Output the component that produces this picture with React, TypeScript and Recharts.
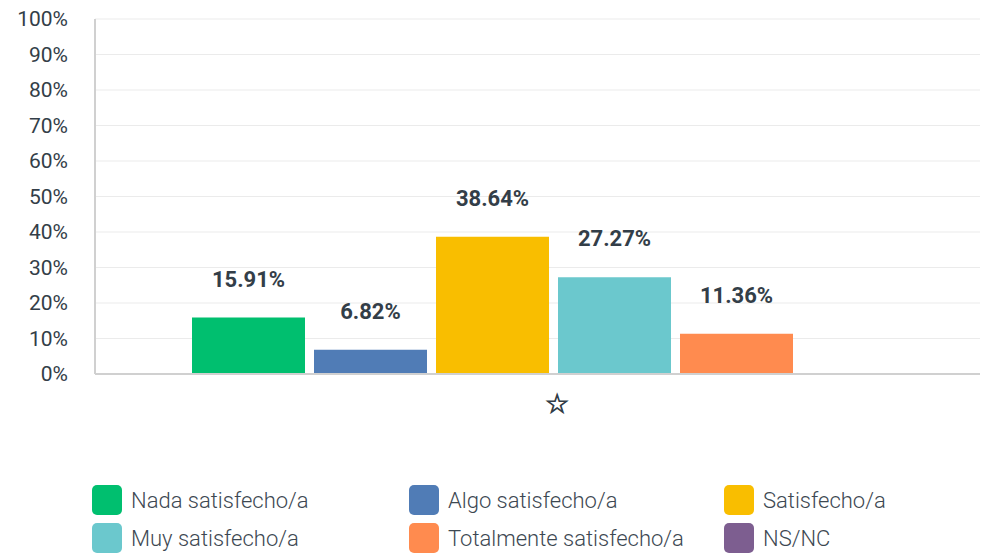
import { Bar, BarChart, CartesianGrid, LabelList, Legend, XAxis, YAxis } from 'recharts'

const categories = ['☆']
const seriesNames = ['Nada satisfecho/a', 'Algo satisfecho/a', 'Satisfecho/a', 'Muy satisfecho/a', 'Totalmente satisfecho/a', 'NS/NC']
const seriesKeys = ['nada', 'algo', 'satisfecho', 'muy', 'totalmente', 'nsnc']
const seriesValues = [15.91, 6.82, 38.64, 27.27, 11.36, 0]
const seriesColors = ['#00bf6f', '#507cb6', '#f9be00', '#6bc8cd', '#ff8b4f', '#7d5e90']
const yTicks = [0, 10, 20, 30, 40, 50, 60, 70, 80, 90, 100]

const data = categories.map((name) => {
  const row: Record<string, string | number> = { name }
  seriesKeys.forEach((k, i) => { row[k] = seriesValues[i] })
  return row
})

const textColor = '#333e48'

function ChartLegend() {
  const colLeft = [92, 409, 724]
  return (
    <div style={{ position: 'relative', width: 991, height: 110 }}>
      {seriesNames.map((name, i) => {
        const col = i % 3
        const row = Math.floor(i / 3)
        return (
          <div
            key={name}
            style={{
              position: 'absolute',
              left: colLeft[col],
              top: 40 + row * 38,
              display: 'flex',
              alignItems: 'center',
              whiteSpace: 'nowrap',
            }}
          >
            <span
              style={{
                display: 'inline-block',
                width: 30,
                height: 30,
                borderRadius: 5,
                background: seriesColors[i],
                marginRight: 9,
              }}
            />
            <span style={{ fontFamily: 'Roboto, sans-serif', fontWeight: 300, fontSize: 22, color: '#3d4852' }}>{name}</span>
          </div>
        )
      })}
    </div>
  )
}

const fmt = (v: unknown) => (Number(v) === 0 ? '' : `${Number(v).toFixed(2)}%`)

export default function App() {
  return (
    <div style={{ position: 'absolute', left: 0, top: 0, width: 991, height: 555, background: '#fff' }}>
      <BarChart
        width={991}
        height={555}
        data={data}
        margin={{ top: 19, right: 11, left: 0, bottom: 0 }}
        barGap={9}
        barSize={113}
      >
        <CartesianGrid stroke="#ebebeb" vertical={false} />
        <XAxis
          dataKey="name"
          height={71}
          padding={{ left: 31, right: 0 }}
          tickLine={false}
          axisLine={{ stroke: '#d0d0d0', strokeWidth: 2 }}
          tick={{ fill: textColor, stroke: textColor, strokeWidth: 0.8, fontSize: 27, fontFamily: 'DejaVu Sans', dx: 4 }}
          tickMargin={14}
        />
        <YAxis
          width={95}
          domain={[0, 100]}
          ticks={yTicks}
          interval={0}
          tickFormatter={(v) => `${v}%`}
          tickLine={false}
          tickSize={0}
          tickMargin={27}
          axisLine={{ stroke: '#d0d0d0', strokeWidth: 2 }}
          tick={{ fill: textColor, fontSize: 21, fontWeight: 400, fontFamily: 'Roboto, sans-serif' }}
        />
        <Legend verticalAlign="bottom" height={110} content={() => <ChartLegend />} />
        {seriesKeys.map((k, i) => (
          <Bar key={k} dataKey={k} name={seriesNames[i]} fill={seriesColors[i]} isAnimationActive={false}>
            <LabelList
              dataKey={k}
              position="top"
              offset={31}
              formatter={fmt}
              style={{ fill: textColor, fontSize: 22, fontWeight: 700, fontFamily: 'Roboto, sans-serif' }}
            />
          </Bar>
        ))}
      </BarChart>
    </div>
  )
}
